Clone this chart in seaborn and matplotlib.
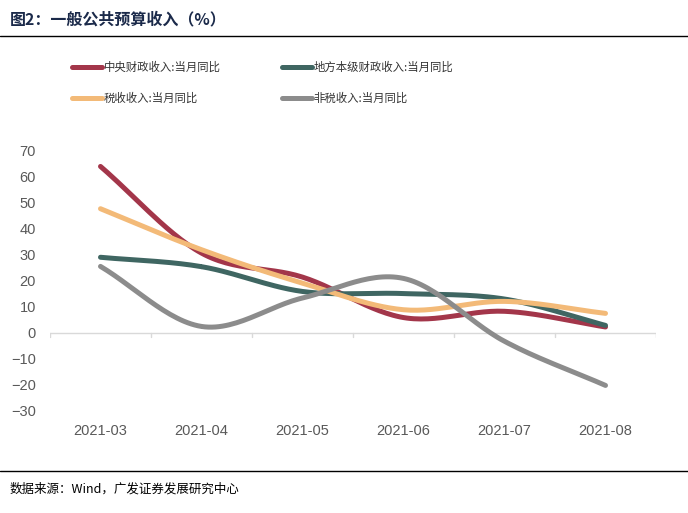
import numpy as np
import pandas as pd
import matplotlib.pyplot as plt
import matplotlib.transforms as mtransforms
import seaborn as sns
from matplotlib.lines import Line2D

months = ["2021-03", "2021-04", "2021-05", "2021-06", "2021-07", "2021-08"]
central = [63.7, 30.5, 21.3, 5.8, 8.2, 2.2]
local = [28.9, 25.3, 15.8, 15.0, 12.9, 2.8]
tax = [47.5, 31.8, 19.0, 8.8, 12.0, 7.4]
nontax = [25.4, 2.4, 13.3, 20.8, -3.3, -20.2]

names = ["中央财政收入:当月同比", "地方本级财政收入:当月同比", "税收收入:当月同比", "非税收入:当月同比"]
colors = ["#A3364A", "#3F6662", "#F3BA78", "#8C8C8C"]

sns.set_style("white")
plt.rcParams["font.family"] = ["Liberation Sans", "Noto Sans CJK SC", "DejaVu Sans"]


def smooth(y, n=30):
    # catmull-rom curve through the points, like excel's smoothed line
    y = np.asarray(y, dtype=float)
    x = np.arange(len(y), dtype=float)
    px = np.concatenate([[2 * x[0] - x[1]], x, [2 * x[-1] - x[-2]]])
    py = np.concatenate([[2 * y[0] - y[1]], y, [2 * y[-1] - y[-2]]])
    xs, ys = [], []
    t = np.linspace(0, 1, n)
    for i in range(1, len(px) - 2):
        for p, out in ((px, xs), (py, ys)):
            p0, p1, p2, p3 = p[i - 1], p[i], p[i + 1], p[i + 2]
            out.append(0.5 * ((2 * p1) + (-p0 + p2) * t
                              + (2 * p0 - 5 * p1 + 4 * p2 - p3) * t ** 2
                              + (-p0 + 3 * p1 - 3 * p2 + p3) * t ** 3))
    return np.concatenate(xs), np.concatenate(ys)


fig = plt.figure(figsize=(6.88, 5.13), dpi=100)
ax = fig.add_axes([50 / 688, 102 / 513, 606 / 688, 261 / 513])

frames = []
for name, vals in zip(names, [central, local, tax, nontax]):
    sx, sy = smooth(vals)
    frames.append(pd.DataFrame({"x": sx, "y": sy, "series": name}))
df = pd.concat(frames, ignore_index=True)

sns.lineplot(data=df, x="x", y="y", hue="series", palette=dict(zip(names, colors)),
             sort=False, estimator=None, linewidth=3.6, legend=False, ax=ax)
for ln in ax.get_lines():
    ln.set_solid_capstyle("round")

ax.set_xlim(-0.5, 5.5)
ax.set_ylim(-30, 70)
ax.set_yticks(range(-30, 71, 10))
ax.set_xticks(range(len(months)))
ax.set_xticklabels(months)
ax.tick_params(axis="y", length=0, labelsize=10.5, colors="#595959", pad=10)
ax.tick_params(axis="x", length=0, labelsize=10.5, colors="#595959", pad=0)
for s in ax.spines.values():
    s.set_visible(False)
ax.set_xlabel("")
ax.set_ylabel("")

# category axis drawn at zero with tick marks between months
ax.axhline(0, color="#D9D9D9", linewidth=1, zorder=0)
for b in np.arange(-0.5, 5.6, 1):
    ax.plot([b, b], [0, -1.6], color="#D9D9D9", linewidth=1, zorder=0)

# x labels sit below the plot area
for lab in ax.get_xticklabels():
    lab.set_transform(lab.get_transform() + mtransforms.ScaledTranslation(0, -13 / 100, fig.dpi_scale_trans))

order = [0, 2, 1, 3]
handles = [Line2D([], [], color=colors[i], linewidth=3.6, solid_capstyle="round") for i in order]
leg = fig.legend(handles, [names[i] for i in order], ncol=2, loc="upper left",
                 bbox_to_anchor=(62 / 688, 1 - 51 / 513), frameon=False,
                 prop={"family": ["Noto Sans CJK SC"], "size": 8.2},
                 handlelength=2.6, handletextpad=0.15, columnspacing=5.4, labelspacing=1.75)
for t in leg.get_texts():
    t.set_color("#333333")

fig.text(10 / 688, 1 - 19 / 513, "图2：一般公共预算收入（%）", fontsize=11.5, fontweight="bold",
         color="#1B2A4A", va="center", ha="left", family=["Noto Sans CJK SC"])
fig.add_artist(Line2D([0, 1], [1 - 36 / 513, 1 - 36 / 513], color="black", linewidth=1))
fig.add_artist(Line2D([0, 1], [1 - 471 / 513, 1 - 471 / 513], color="black", linewidth=1))
fig.text(10 / 688, 1 - 489 / 513, "数据来源：Wind，广发证券发展研究中心", fontsize=9,
         color="black", va="center", ha="left", family=["Noto Sans CJK SC", "DejaVu Sans"])

fig.savefig("out.png", dpi=100)
